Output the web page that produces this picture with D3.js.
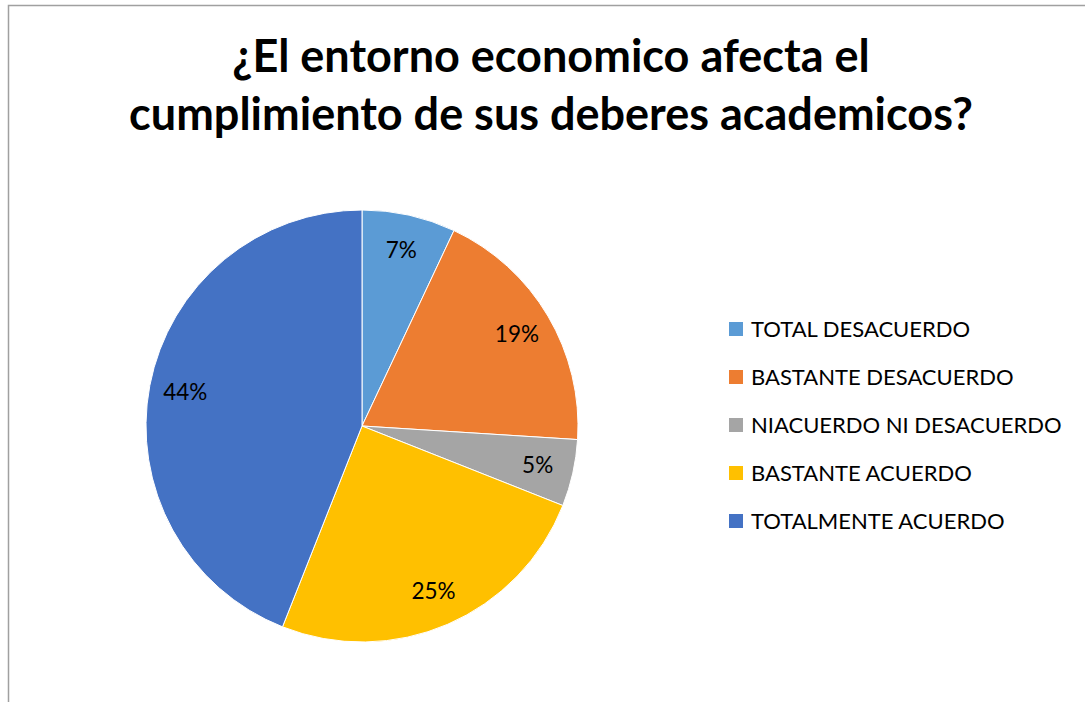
<!DOCTYPE html>
<html>
<head>
<meta charset="utf-8">
<script src="https://cdn.jsdelivr.net/npm/d3@7"></script>
<style>
  body { margin: 0; background: #fff; }
  text { font-family: Lato, "Open Sans", sans-serif; }
</style>
</head>
<body>
<div class="chart"></div>
<script>
const categories = ['TOTAL DESACUERDO', 'BASTANTE DESACUERDO', 'NIACUERDO NI DESACUERDO', 'BASTANTE ACUERDO', 'TOTALMENTE ACUERDO']
const values = [7, 19, 5, 25, 44]
const colors = ['#5B9BD5', '#ED7D31', '#A5A5A5', '#FFC000', '#4472C4']
const titleLines = ['¿El entorno economico afecta el', 'cumplimiento de sus deberes academicos?']

const width = 1085
const height = 702
const cx = 362, cy = 426, radius = 216

const svg = d3.select('.chart')
  .append('svg')
  .attr('width', width)
  .attr('height', height)

// chart frame (only top and left edges visible)
svg.append('path')
  .attr('d', `M8.5,702 V5.5 H1085`)
  .attr('fill', 'none')
  .attr('stroke', '#a0a0a0')
  .attr('stroke-width', 1.5)

// title
svg.selectAll('.title')
  .data(titleLines)
  .enter()
  .append('text')
  .attr('class', 'title')
  .attr('x', 551)
  .attr('y', (d, i) => 72 + i * 58)
  .attr('text-anchor', 'middle')
  .style('font-size', '45px')
  .style('font-weight', 'bold')
  .style('fill', '#000')
  .text(d => d)

// pie
const data = categories.map((c, i) => ({ name: c, value: values[i], color: colors[i] }))
const pie = d3.pie().value(d => d.value).sort(null)
const arc = d3.arc().innerRadius(0).outerRadius(radius)
const labelArc = d3.arc().innerRadius(180).outerRadius(180)

const g = svg.append('g').attr('transform', `translate(${cx}, ${cy})`)
const arcs = pie(data)

g.selectAll('path')
  .data(arcs)
  .enter()
  .append('path')
  .attr('d', arc)
  .attr('fill', d => d.data.color)
  .attr('stroke', '#fff')
  .attr('stroke-width', 1)

g.selectAll('.label')
  .data(arcs)
  .enter()
  .append('text')
  .attr('class', 'label')
  .attr('transform', d => `translate(${labelArc.centroid(d)})`)
  .attr('text-anchor', 'middle')
  .attr('dy', '0.33em')
  .style('font-size', '22.5px')
  .style('fill', '#000')
  .text(d => `${d.data.value}%`)

// legend
const legend = svg.selectAll('.lineLegend')
  .data(data)
  .enter()
  .append('g')
  .attr('class', 'lineLegend')
  .attr('transform', (d, i) => `translate(729, ${329 + i * 48})`)

legend.append('rect')
  .attr('x', 0)
  .attr('y', -7)
  .attr('width', 14)
  .attr('height', 14)
  .attr('fill', d => d.color)

legend.append('text')
  .attr('x', 22)
  .attr('dy', '0.35em')
  .style('font-size', '22px')
  .style('fill', '#000')
  .text(d => d.name)
</script>
</body>
</html>
